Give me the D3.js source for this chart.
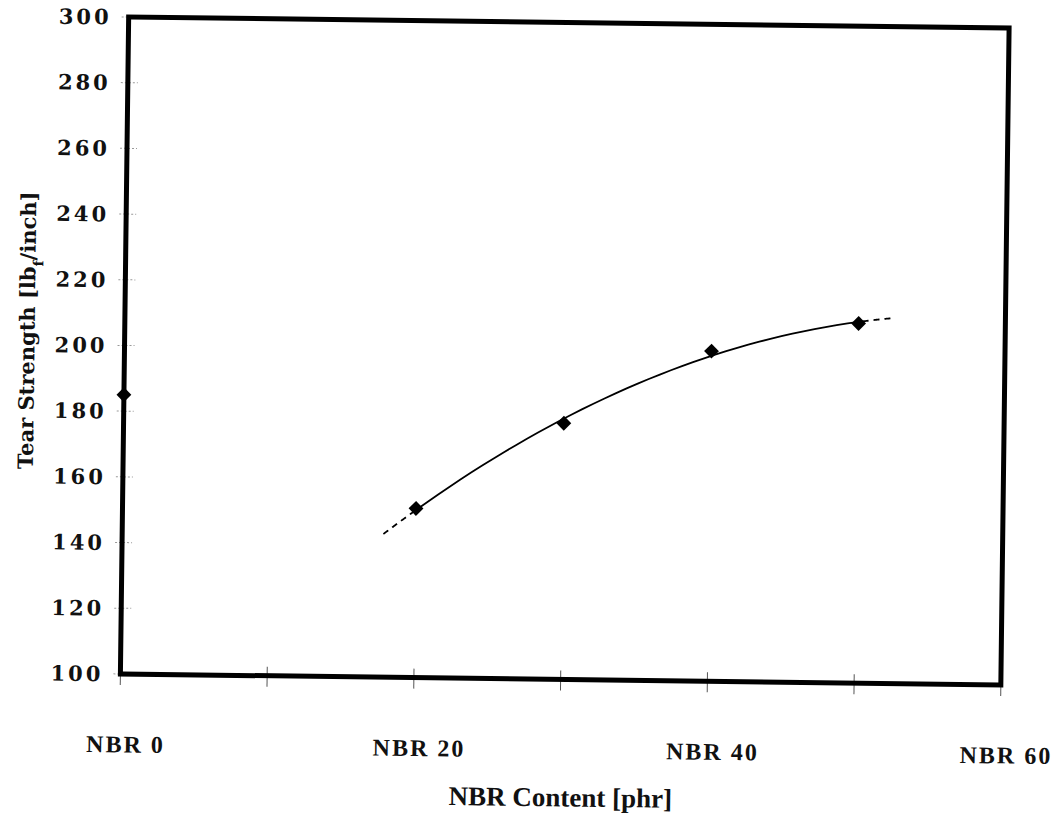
<!DOCTYPE html>
<html>
<head>
<meta charset="utf-8">
<script src="https://cdn.jsdelivr.net/npm/d3@7"></script>
<style>
  html, body { margin: 0; padding: 0; background: #fff; }
  svg { display: block; }
  .serif { font-family: "DejaVu Serif", "Liberation Serif", serif; font-weight: bold; }
  .times { font-family: "Liberation Serif", serif; font-weight: bold; }
</style>
</head>
<body>
<svg id="chart" width="1063" height="819"></svg>
<script>
// Measured tear strength against NBR loading
const nbrContent = [0, 20, 30, 40, 50];
const tearStrength = [185, 151.5, 178, 200.5, 209.5];

// Axis ticks and labels
const yTicks = [100, 120, 140, 160, 180, 200, 220, 240, 260, 280, 300];
const xMinorTicks = [0, 10, 20, 30, 40, 50, 60];
const xLabelValues = [0, 20, 40, 60];
const xLabels = ["NBR 0", "NBR 20", "NBR 40", "NBR 60"];

// Trend line range (fitted on the blended samples, extended a little each way)
const trendFitFrom = 20;
const trendRange = [17.8, 52.3];

const svg = d3.select("#chart");
const frame = { left: 124.5, right: 1005, top: 22.5, bottom: 679.5 };

const x = d3.scaleLinear().domain([0, 60]).range([frame.left, frame.right]);
const y = d3.scaleLinear().domain([100, 300]).range([frame.bottom, frame.top]);

// the printed page sits slightly askew
const cx = (frame.left + frame.right) / 2, cy = (frame.top + frame.bottom) / 2;
const g = svg.append("g").attr("transform", `rotate(0.72, ${cx}, ${cy})`);

// y tick marks (faint, crossing the left axis)
g.append("g").selectAll("line").data(yTicks).join("line")
  .attr("x1", frame.left - 7).attr("x2", frame.left + 10)
  .attr("y1", d => y(d)).attr("y2", d => y(d))
  .attr("stroke", "#999").attr("stroke-width", 1).attr("stroke-dasharray", "2,2");

// x tick marks crossing the bottom axis
g.append("g").selectAll("line").data(xMinorTicks).join("line")
  .attr("x1", d => x(d)).attr("x2", d => x(d))
  .attr("y1", d => (d === 60 ? frame.bottom : frame.bottom - 9)).attr("y2", frame.bottom + 11)
  .attr("stroke", "#555").attr("stroke-width", 1);

// plot frame
g.append("rect")
  .attr("x", frame.left).attr("y", frame.top)
  .attr("width", frame.right - frame.left).attr("height", frame.bottom - frame.top)
  .attr("fill", "none").attr("stroke", "#000").attr("stroke-width", 5);

// y tick labels
g.append("g").selectAll("text").data(yTicks).join("text")
  .attr("class", "serif")
  .attr("x", frame.left - 17).attr("y", d => y(d)).attr("dy", "0.36em")
  .attr("text-anchor", "end")
  .attr("font-size", 21).attr("letter-spacing", 3).attr("fill", "#111")
  .text(d => d);

// x category labels
g.append("g").selectAll("text").data(xLabelValues).join("text")
  .attr("class", "times")
  .attr("x", d => x(d) + 6).attr("y", frame.bottom + 70).attr("dy", "0.35em")
  .attr("text-anchor", "middle")
  .attr("font-size", 24).attr("letter-spacing", 2).attr("fill", "#111")
  .text((d, i) => xLabels[i]);

// axis titles
g.append("text")
  .attr("class", "times")
  .attr("x", 566).attr("y", 797).attr("dy", "0.35em")
  .attr("text-anchor", "middle")
  .attr("font-size", 27).attr("fill", "#111")
  .text("NBR Content [phr]");

const yTitle = g.append("text")
  .attr("class", "serif")
  .attr("transform", "translate(27,337) rotate(-90)")
  .attr("dy", "0.35em")
  .attr("text-anchor", "middle")
  .attr("font-size", 21).attr("fill", "#111");
yTitle.append("tspan").text("Tear Strength [lb");
yTitle.append("tspan").attr("baseline-shift", "sub").attr("font-size", 14).text("f");
yTitle.append("tspan").text("/inch]");

// second-order polynomial least-squares trend over the blended samples
const fitX = nbrContent.filter(d => d >= trendFitFrom);
const fitY = tearStrength.filter((d, i) => nbrContent[i] >= trendFitFrom);
function polyFit2(xs, ys) {
  let s = [0, 0, 0, 0, 0], t = [0, 0, 0];
  xs.forEach((xv, i) => {
    for (let k = 0; k < 5; k++) s[k] += Math.pow(xv, k);
    for (let k = 0; k < 3; k++) t[k] += ys[i] * Math.pow(xv, k);
  });
  const A = [[s[0], s[1], s[2], t[0]], [s[1], s[2], s[3], t[1]], [s[2], s[3], s[4], t[2]]];
  for (let c = 0; c < 3; c++) {
    for (let r = c + 1; r < 3; r++) {
      const f = A[r][c] / A[c][c];
      for (let k = c; k < 4; k++) A[r][k] -= f * A[c][k];
    }
  }
  const coef = [0, 0, 0];
  for (let r = 2; r >= 0; r--) {
    let v = A[r][3];
    for (let k = r + 1; k < 3; k++) v -= A[r][k] * coef[k];
    coef[r] = v / A[r][r];
  }
  return xv => coef[0] + coef[1] * xv + coef[2] * xv * xv;
}
const trend = polyFit2(fitX, fitY);
const sample = (a, b) => d3.range(0, 41).map(i => a + (b - a) * i / 40).map(v => [v, trend(v)]);
const line = d3.line().x(d => x(d[0])).y(d => y(d[1]));

g.append("path").attr("d", line(sample(fitX[0], fitX[fitX.length - 1])))
  .attr("fill", "none").attr("stroke", "#000").attr("stroke-width", 1.8);
g.append("path").attr("d", line(sample(trendRange[0], fitX[0])))
  .attr("fill", "none").attr("stroke", "#000").attr("stroke-width", 1.8)
  .attr("stroke-dasharray", "6,5");
g.append("path").attr("d", line(sample(fitX[fitX.length - 1], trendRange[1])))
  .attr("fill", "none").attr("stroke", "#000").attr("stroke-width", 1.8)
  .attr("stroke-dasharray", "6,5").attr("stroke-dashoffset", -4);

// diamond markers
const diamond = d3.symbol().type(d3.symbolDiamond2).size(140);
g.append("g").selectAll("path").data(nbrContent).join("path")
  .attr("transform", (d, i) => `translate(${x(d)},${y(tearStrength[i])})`)
  .attr("d", diamond)
  .attr("fill", "#000");
</script>
</body>
</html>
